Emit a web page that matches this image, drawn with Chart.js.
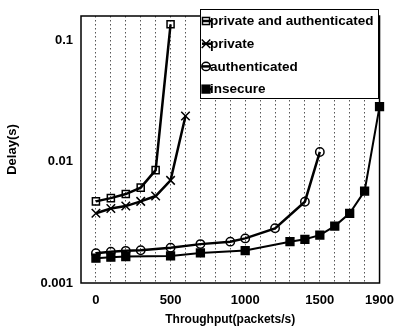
<!DOCTYPE html>
<html>
<head>
<meta charset="utf-8">
<script src="https://cdn.jsdelivr.net/npm/chart.js@4.4.1/dist/chart.umd.min.js"></script>
<style>
html, body { margin: 0; padding: 0; background: #fff; }
</style>
</head>
<body>
<canvas id="delayChart" width="404" height="329"></canvas>
<script>
// Delay vs throughput for each security mode
const seriesNames = ['private and authenticated', 'private', 'authenticated', 'insecure'];

const privAuthX = [0, 100, 200, 300, 400, 500];
const privAuthY = [0.0047, 0.0050, 0.0054, 0.0061, 0.0085, 0.135];

const privateX = [0, 100, 200, 300, 400, 500, 600];
const privateY = [0.00375, 0.0041, 0.0043, 0.0047, 0.0052, 0.0070, 0.0237];

const authX = [0, 100, 200, 300, 500, 700, 900, 1000, 1200, 1400, 1500];
const authY = [0.00176, 0.00181, 0.00184, 0.00186, 0.00195, 0.00209, 0.00219, 0.00233, 0.00282, 0.00467, 0.0120];

const insecureX = [0, 100, 200, 500, 700, 1000, 1300, 1400, 1500, 1600, 1700, 1800, 1900];
const insecureY = [0.0016, 0.00163, 0.00165, 0.00167, 0.00177, 0.00185, 0.00219, 0.00229, 0.00248, 0.00294, 0.00375, 0.00572, 0.0283];

const xTickLabels = [0, 500, 1000, 1500, 1900];
const yTickValues = [0.001, 0.01, 0.1];

const FONT = "'Liberation Sans', Arial, sans-serif";
const CLEAR = 'rgba(0,0,0,0)';

function toPoints(xs, ys) {
    return xs.map((x, i) => ({ x: x, y: ys[i] }));
}

// line + marker settings for each series
const styles = [
    { pointStyle: 'rect', radius: 5, fill: CLEAR, width: 2.5 },
    { pointStyle: 'crossRot', radius: 6, fill: CLEAR, width: 2.5 },
    { pointStyle: 'circle', radius: 4.2, fill: CLEAR, width: 2.5 },
    { pointStyle: 'rect', radius: 5.5, fill: '#000', width: 2 }
];
const seriesData = [
    toPoints(privAuthX, privAuthY),
    toPoints(privateX, privateY),
    toPoints(authX, authY),
    toPoints(insecureX, insecureY)
];

const datasets = seriesNames.map((name, i) => ({
    label: name,
    data: seriesData[i],
    borderColor: '#000',
    borderWidth: styles[i].width,
    pointStyle: styles[i].pointStyle,
    pointRadius: styles[i].radius,
    pointBackgroundColor: styles[i].fill,
    pointBorderColor: '#000',
    pointBorderWidth: 1.5,
    tension: 0,
    clip: false
}));

// small marker used in the key box
function drawMark(ctx, st, x, y) {
    ctx.save();
    ctx.lineWidth = 1.5;
    ctx.strokeStyle = '#000';
    ctx.fillStyle = st.fill;
    if (st.pointStyle === 'rect') {
        const s = st.radius * Math.SQRT1_2;
        ctx.fillRect(x - s, y - s, 2 * s, 2 * s);
        ctx.strokeRect(x - s, y - s, 2 * s, 2 * s);
    } else if (st.pointStyle === 'circle') {
        ctx.beginPath();
        ctx.arc(x, y, st.radius, 0, Math.PI * 2);
        ctx.fill();
        ctx.stroke();
    } else {
        const s = st.radius * Math.SQRT1_2;
        ctx.beginPath();
        ctx.moveTo(x - s, y - s); ctx.lineTo(x + s, y + s);
        ctx.moveTo(x + s, y - s); ctx.lineTo(x - s, y + s);
        ctx.stroke();
    }
    ctx.restore();
}

const frameAndKey = {
    id: 'frameAndKey',
    afterDraw(chart) {
        const ctx = chart.ctx;
        const a = chart.chartArea;
        ctx.save();
        ctx.strokeStyle = '#000';
        ctx.lineWidth = 1.5;
        ctx.strokeRect(a.left, a.top, a.right - a.left, a.bottom - a.top);

        // key box
        const bx = 200, by = 9, bw = 178, bh = 89;
        ctx.fillStyle = '#fff';
        ctx.fillRect(bx, by, bw, bh);
        ctx.lineWidth = 1;
        ctx.strokeRect(bx + 0.5, by + 0.5, bw, bh);

        ctx.font = 'bold 13.5px ' + FONT;
        ctx.textBaseline = 'middle';
        ctx.textAlign = 'left';
        chart.data.datasets.forEach((ds, i) => {
            const y = by + 12 + i * 22.7;
            ctx.strokeStyle = '#000';
            ctx.lineWidth = 2.5;
            ctx.beginPath();
            ctx.moveTo(bx + 2, y);
            ctx.lineTo(bx + 11, y);
            ctx.stroke();
            drawMark(ctx, styles[i], bx + 6, y);
            ctx.fillStyle = '#000';
            ctx.fillText(ds.label, bx + 10, y + 0.5);
        });
        ctx.restore();
    }
};

const chart = new Chart(document.getElementById('delayChart'), {
    type: 'line',
    data: { datasets: datasets },
    options: {
        responsive: false,
        animation: false,
        devicePixelRatio: 1,
        layout: { padding: { left: 0, top: 16, right: 11, bottom: 0 } },
        plugins: {
            legend: { display: false },
            tooltip: { enabled: false }
        },
        scales: {
            x: {
                type: 'linear',
                min: -100,
                max: 1900,
                afterFit: s => { s.height = 46; },
                ticks: {
                    stepSize: 100,
                    autoSkip: false,
                    maxRotation: 0,
                    padding: 10,
                    color: '#000',
                    font: { family: FONT, size: 13, weight: 'bold' },
                    callback: v => xTickLabels.includes(v) ? String(v) : ''
                },
                grid: {
                    drawTicks: false,
                    lineWidth: 1,
                    color: c => (c.tick && c.tick.value >= 0 && c.tick.value <= 1800) ? '#555' : CLEAR
                },
                // dotted vertical grid lines
                border: { display: false, dash: [1.5, 2.5] },
                title: {
                    display: true,
                    text: 'Throughput(packets/s)',
                    color: '#000',
                    font: { family: FONT, size: 12, weight: 'bold' },
                    padding: { top: 0, bottom: 2 }
                }
            },
            y: {
                type: 'logarithmic',
                min: 0.001,
                max: 0.158,
                afterFit: s => { s.width = 81; },
                afterBuildTicks: s => { s.ticks = yTickValues.map(v => ({ value: v })); },
                ticks: {
                    padding: 8,
                    color: '#000',
                    font: { family: FONT, size: 13, weight: 'bold' },
                    callback: v => String(v)
                },
                grid: { display: false, drawTicks: false },
                border: { display: false },
                title: {
                    display: true,
                    text: 'Delay(s)',
                    color: '#000',
                    font: { family: FONT, size: 13, weight: 'bold' },
                    padding: { top: 5, bottom: 0 }
                }
            }
        }
    },
    plugins: [frameAndKey]
});
</script>
</body>
</html>
